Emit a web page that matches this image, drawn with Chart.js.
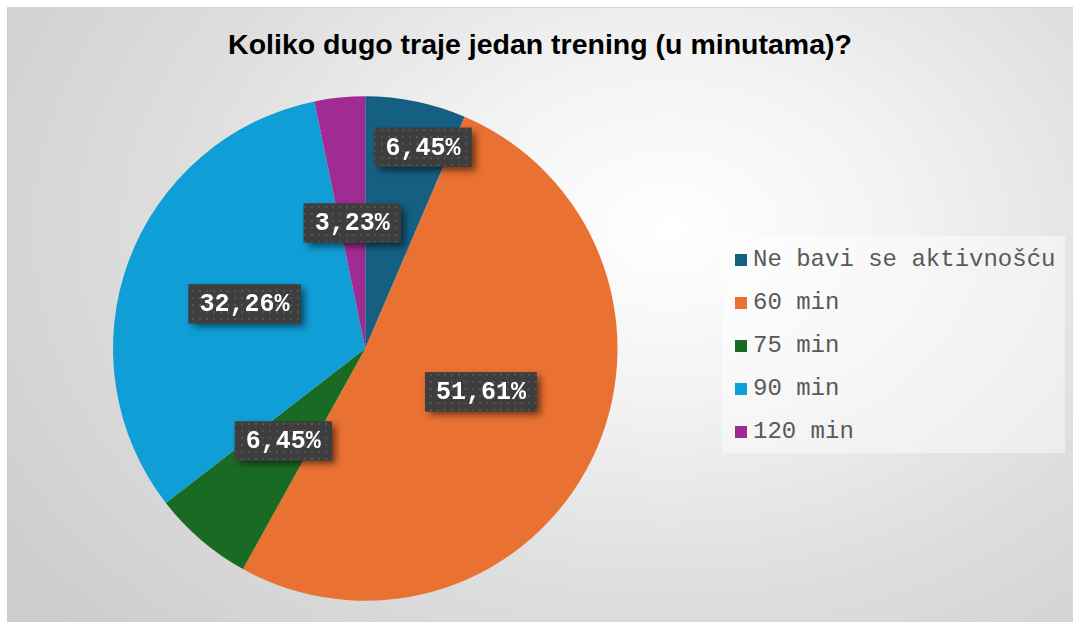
<!DOCTYPE html>
<html>
<head>
<meta charset="utf-8">
<script src="https://cdn.jsdelivr.net/npm/chart.js@4.4.1/dist/chart.umd.min.js"></script>
<style>
    html, body { margin: 0; padding: 0; background: #fff; }
    body { width: 1073px; height: 622px; position: relative; overflow: hidden; }
    #okvir {
        position: absolute; left: 7px; top: 7px; width: 1066px; height: 615px;
        background: radial-gradient(ellipse 75% 95% at 62% 36%, #ffffff 0%, #f3f3f3 28%, #dedede 62%, #cdcdcd 100%);
        border-left: 1px solid #cfcfcf; border-top: 1px solid #d4d4d4;
    }
    #naslov {
        position: absolute; left: 7px; width: 1066px; top: 28px; text-align: center;
        font-family: "Liberation Sans", Arial, sans-serif; font-weight: bold; font-size: 28.5px; color: #000;
    }
    #legenda {
        position: absolute; left: 722px; top: 236px; width: 343px; height: 217px;
        background: rgba(255,255,255,0.45);
    }
    .stavka {
        position: absolute; left: 13px; height: 30px; line-height: 30px;
        font-family: "Liberation Mono", "Courier New", monospace; font-size: 24px; color: #595959; white-space: nowrap;
    }
    .stavka span.kv { display: inline-block; width: 12px; height: 12px; margin-right: 6px; vertical-align: 0px; }
    canvas { position: absolute; left: 0; top: 0; }
</style>
</head>
<body>
<div id="okvir"></div>
<div id="naslov">Koliko dugo traje jedan trening (u minutama)?</div>
<div id="legenda"></div>
<canvas id="graficaTrening" width="1073" height="622"></canvas>
<script>
// ================= PODACI =================
const kategorije = ['Ne bavi se aktivnošću', '60 min', '75 min', '90 min', '120 min'];
const procenti   = [6.45, 51.61, 6.45, 32.26, 3.23];
const oznake     = ['6,45%', '51,61%', '6,45%', '32,26%', '3,23%'];
const boje       = ['#156082', '#E97132', '#196B24', '#0F9ED5', '#A02B93'];

// ================= LEGENDA =================
const legenda = document.getElementById('legenda');
kategorije.forEach((k, i) => {
    const el = document.createElement('div');
    el.className = 'stavka';
    el.style.top = (9 + i * 43) + 'px';
    el.innerHTML = `<span class="kv" style="background:${boje[i]}"></span>${k}`;
    legenda.appendChild(el);
});

// ================= OZNAKE (plugin) =================
function napraviUzorak(ctx) {
    const c = document.createElement('canvas');
    c.width = 7; c.height = 7;
    const g = c.getContext('2d');
    g.fillStyle = '#3e3e3e';
    g.fillRect(0, 0, 7, 7);
    g.fillStyle = '#545454';
    g.fillRect(3, 3, 2, 2);
    return ctx.createPattern(c, 'repeat');
}

const oznakePlugin = {
    id: 'oznakePlugin',
    afterDatasetsDraw(chart, args, opts) {
        const ctx = chart.ctx;
        const uzorak = napraviUzorak(ctx);
        const meta = chart.getDatasetMeta(0);
        ctx.save();
        ctx.font = 'bold 25px "Liberation Mono", "Courier New", monospace';
        ctx.textAlign = 'center';
        ctx.textBaseline = 'middle';
        meta.data.forEach((arc, i) => {
            const p = arc.getProps(['x', 'y', 'startAngle', 'endAngle', 'outerRadius'], true);
            const ugao = p.startAngle + (p.endAngle - p.startAngle) * opts.ugao[i];
            const r = p.outerRadius * opts.poluprecnik[i];
            const x = p.x + Math.cos(ugao) * r;
            const y = p.y + Math.sin(ugao) * r;
            const w = ctx.measureText(oznake[i]).width + 22;
            const h = 39;

            ctx.save();
            ctx.shadowColor = 'rgba(0,0,0,0.55)';
            ctx.shadowBlur = 7;
            ctx.shadowOffsetX = 4;
            ctx.shadowOffsetY = 4;
            ctx.fillStyle = '#3e3e3e';
            ctx.fillRect(x - w / 2, y - h / 2, w, h);
            ctx.restore();
            ctx.fillStyle = uzorak;
            ctx.fillRect(x - w / 2, y - h / 2, w, h);

            ctx.fillStyle = '#ffffff';
            ctx.fillText(oznake[i], x, y + 1);
        });
        ctx.restore();
    }
};

// ================= GRAFIKA =================
new Chart(document.getElementById('graficaTrening'), {
    type: 'pie',
    data: {
        labels: kategorije,
        datasets: [{
            data: procenti,
            backgroundColor: boje,
            borderWidth: 0
        }]
    },
    options: {
        responsive: false,
        animation: false,
        layout: { padding: { left: 113, right: 455.5, top: 96, bottom: 21 } },
        plugins: {
            legend: { display: false },
            title: { display: false },
            tooltip: { enabled: false },
            oznakePlugin: {
                ugao:        [0.69, 0.47, 0.54, 0.50, 0.49],
                poluprecnik: [0.83, 0.49, 0.49, 0.51, 0.50]
            }
        }
    },
    plugins: [oznakePlugin]
});
</script>
</body>
</html>
